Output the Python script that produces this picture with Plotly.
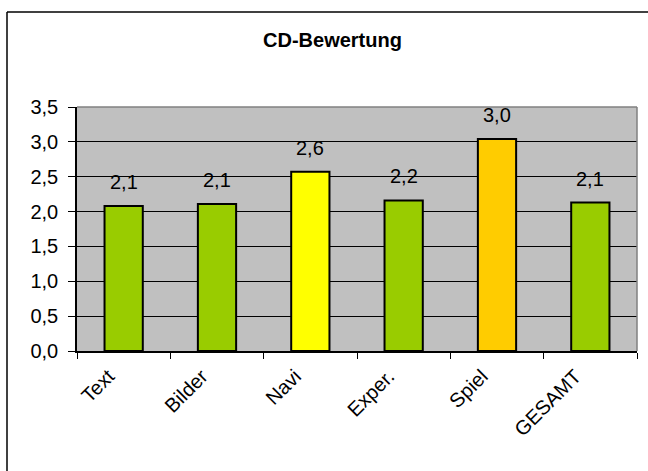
import plotly.graph_objects as go

# CD rating per category
categories = ["Text", "Bilder", "Navi", "Exper.", "Spiel", "GESAMT"]
scores = [2.08, 2.11, 2.57, 2.16, 3.04, 2.13]
bar_colors = ["#99CC00", "#99CC00", "#FFFF00", "#99CC00", "#FFCC00", "#99CC00"]
y_ticks = [0.0, 0.5, 1.0, 1.5, 2.0, 2.5, 3.0, 3.5]

W, H = 648, 471
L, R, T, B = 77, 11, 107, 120
FONT = "Liberation Sans, Arial, sans-serif"

fig = go.Figure(
    go.Bar(
        x=categories,
        y=scores,
        width=0.41,
        marker=dict(color=bar_colors, line=dict(color="#000000", width=2)),
        hoverinfo="skip",
    )
)

# value labels above each bar
for cat, val in zip(categories, scores):
    fig.add_annotation(
        x=cat, y=val, text=f"{val:.1f}".replace(".", ","),
        showarrow=False, yanchor="bottom", yshift=11,
        font=dict(family=FONT, size=20, color="#000000"),
    )

pw, ph = W - L - R, H - T - B


def px_x(p):
    return (p - L) / pw


def px_y(p):
    return 1 - (p - T) / ph


# outer chart frame: left and top edges (the rest runs off the page)
fig.add_shape(type="line", xref="paper", yref="paper",
              x0=px_x(7), x1=px_x(7), y0=px_y(12), y1=px_y(480),
              line=dict(color="#000000", width=1.5), layer="above")
fig.add_shape(type="line", xref="paper", yref="paper",
              x0=px_x(7), x1=px_x(660), y0=px_y(12), y1=px_y(12),
              line=dict(color="#000000", width=1.5), layer="above")
# grey plot-area border on top and right
fig.add_shape(type="line", xref="paper", yref="paper", x0=0, x1=1, y0=1, y1=1,
              line=dict(color="#808080", width=1.5), layer="above")
fig.add_shape(type="line", xref="paper", yref="paper", x0=1, x1=1, y0=0, y1=1,
              line=dict(color="#808080", width=1.5), layer="above")

fig.update_layout(
    width=W, height=H,
    margin=dict(l=L, r=R, t=T, b=B, pad=0),
    paper_bgcolor="#FFFFFF",
    plot_bgcolor="#C0C0C0",
    separators=",.",
    showlegend=False,
    title=dict(text="<b>CD-Bewertung</b>", x=332.5 / W, xanchor="center",
               xref="container", yref="container", y=1 - 40 / H, yanchor="middle",
               font=dict(family=FONT, size=20, color="#000000")),
    font=dict(family=FONT, color="#000000"),
)

fig.update_xaxes(
    type="category",
    showgrid=False,
    showline=True, linecolor="#000000", linewidth=1.5,
    ticks="outside", ticklen=6, tickcolor="#000000", tickson="boundaries",
    tickangle=-45, ticklabelstandoff=4, ticklabelshift=-15,
    tickfont=dict(family=FONT, size=20, color="#000000"),
    zeroline=False, fixedrange=True,
)
fig.update_yaxes(
    range=[0, 3.5],
    tickvals=y_ticks, tickformat=".1f",
    showgrid=True, gridcolor="#000000", gridwidth=1,
    showline=True, linecolor="#000000", linewidth=1.5,
    ticks="outside", ticklen=7, tickcolor="#000000",
    ticklabelstandoff=6,
    tickfont=dict(family=FONT, size=20, color="#000000"),
    zeroline=False, fixedrange=True,
)

fig.write_html("out.html")
